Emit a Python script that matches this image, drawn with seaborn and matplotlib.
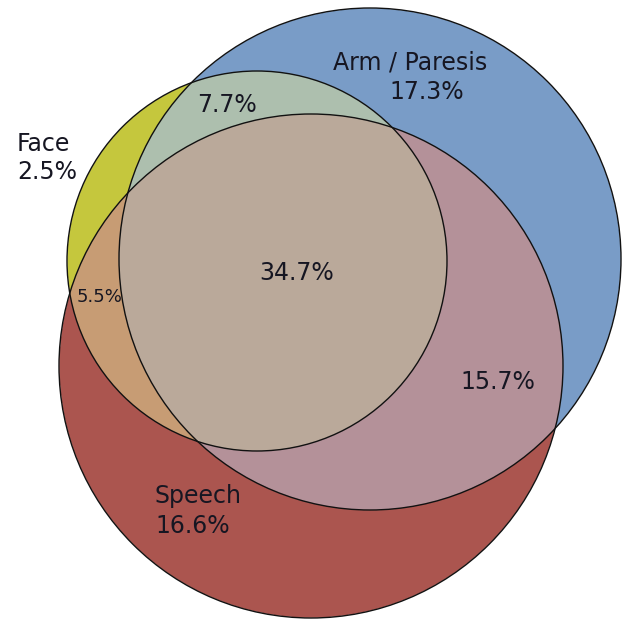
import numpy as np
import matplotlib
matplotlib.use("Agg")
import matplotlib.pyplot as plt
from matplotlib.patches import Circle
import seaborn as sns

# ---- data ----
set_names = ["Face", "Arm / Paresis", "Speech"]
set_colors = ["#c6c83e", "#7a9dc8", "#ab564f"]
# region percentages (exclusive regions)
face_only = 2.5
arm_only = 17.3
speech_only = 16.6
face_arm = 7.7
face_speech = 5.5
arm_speech = 15.7
all_three = 34.7
# overlap colours: keyed by membership code (face=1, arm=2, speech=4)
overlap_codes = [3, 5, 6, 7]
overlap_colors = ["#adc0ae", "#c89c74", "#b59199", "#bba99b"]

sns.set_theme(style="white")
plt.rcParams["font.family"] = ["DejaVu Sans"]

W, H = 624, 619
fig = plt.figure(figsize=(W / 100, H / 100), dpi=100)
ax = fig.add_axes([0, 0, 1, 1])
ax.set_xlim(0, W)
ax.set_ylim(H, 0)
ax.set_axis_off()

# circle geometry (pixel space): face, arm, speech
centers = [(257, 261), (370, 259), (311, 366)]
radii = [190, 251, 252]

# membership raster
res = 2
xs = (np.arange(W * res) + 0.5) / res
ys = (np.arange(H * res) + 0.5) / res
X, Y = np.meshgrid(xs, ys)
code = np.zeros(X.shape, dtype=int)
for i, ((cx, cy), r) in enumerate(zip(centers, radii)):
    code += ((X - cx) ** 2 + (Y - cy) ** 2 <= r ** 2).astype(int) << i

lut = {0: (1, 1, 1, 0)}
for i, c in enumerate(set_colors):
    lut[1 << i] = matplotlib.colors.to_rgba(c)
for k, c in zip(overlap_codes, overlap_colors):
    lut[k] = matplotlib.colors.to_rgba(c)
img = np.zeros(X.shape + (4,))
for k, rgba in lut.items():
    img[code == k] = rgba
ax.imshow(img, extent=(0, W, H, 0), interpolation="bilinear", zorder=1)

for (cx, cy), r in zip(centers, radii):
    ax.add_patch(Circle((cx, cy), r, fill=False, edgecolor="#111111", lw=1.0, zorder=3))

tc = "#161622"
fs = 17
ax.text(410, 70, set_names[1], ha="center", va="baseline", fontsize=fs, color=tc, zorder=4)
ax.text(427, 99, f"{arm_only}%", ha="center", va="baseline", fontsize=fs, color=tc, zorder=4)
ax.text(17, 151, set_names[0], ha="left", va="baseline", fontsize=fs, color=tc, zorder=4)
ax.text(17, 179, f"{face_only}%", ha="left", va="baseline", fontsize=fs, color=tc, zorder=4)
ax.text(155, 503, set_names[2], ha="left", va="baseline", fontsize=fs, color=tc, zorder=4)
ax.text(155, 533, f"{speech_only}%", ha="left", va="baseline", fontsize=fs, color=tc, zorder=4)
ax.text(227, 112, f"{face_arm}%", ha="center", va="baseline", fontsize=fs, color=tc, zorder=4)
ax.text(297, 280, f"{all_three}%", ha="center", va="baseline", fontsize=fs, color=tc, zorder=4)
ax.text(99, 302, f"{face_speech}%", ha="center", va="baseline", fontsize=13, color=tc, zorder=4)
ax.text(498, 389, f"{arm_speech}%", ha="center", va="baseline", fontsize=fs, color=tc, zorder=4)

fig.savefig("out.png", dpi=100)
